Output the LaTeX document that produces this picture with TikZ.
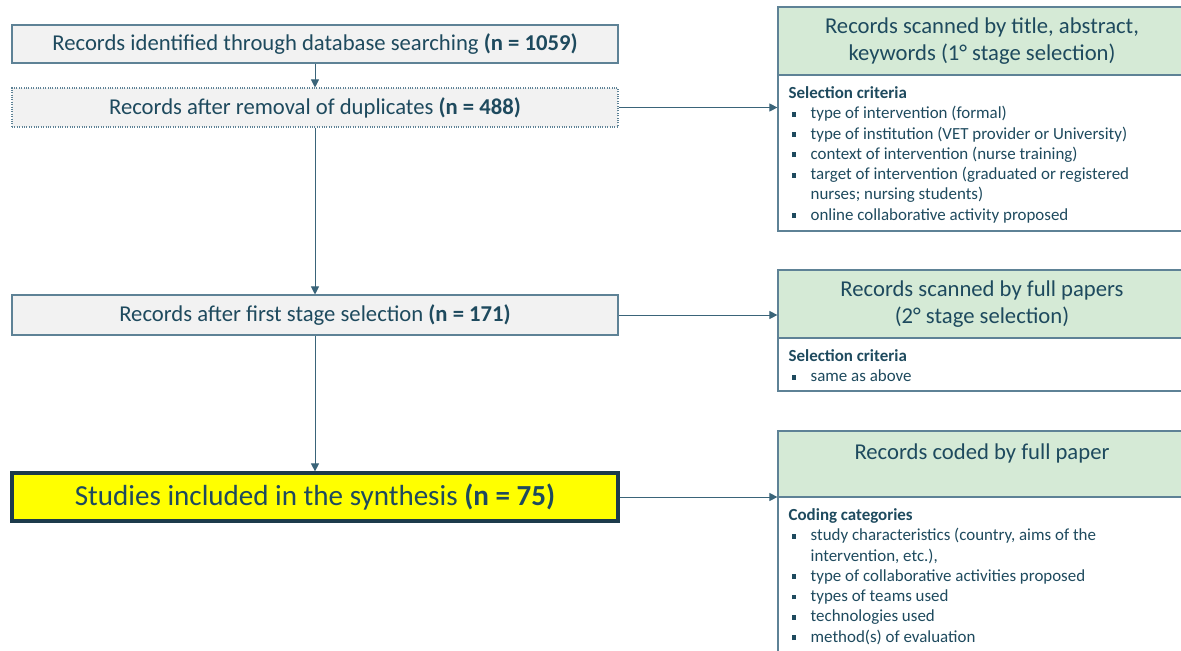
\documentclass[tikz,border=0pt]{standalone}
\usepackage{fontspec}
\setmainfont{Carlito}
\usetikzlibrary{arrows.meta,calc}
\definecolor{txt}{HTML}{1E4A5E}
\definecolor{edge}{HTML}{5E8296}
\definecolor{lnk}{HTML}{3A6479}
\definecolor{grn}{HTML}{D5EAD6}
\definecolor{lgray}{HTML}{F2F2F2}
\definecolor{ylw}{HTML}{FFFF00}
\definecolor{dark}{HTML}{1C3B4B}
\newcommand{\bitem}{\hspace*{2.25pt}\makebox[14.25pt][l]{\raisebox{1.6pt}{\rule{3.6pt}{3.6pt}}}}
\newcommand{\bcont}{\hspace*{16.5pt}}
\begin{document}
\begin{tikzpicture}[x=0.75pt,y=-0.75pt,
  lbox/.style={draw=edge, fill=lgray, minimum width=454.5pt, inner sep=0pt, text=txt,
    font=\fontsize{17}{20}\selectfont, line width=0.8pt},
  hbox/.style={draw=edge, fill=grn, minimum width=306pt, inner sep=0pt, text=txt,
    font=\fontsize{17}{20.25}\selectfont, align=center, line width=0.9pt},
  bbox/.style={draw=edge, fill=white, minimum width=306pt, inner sep=0pt, line width=0.9pt},
  btext/.style={anchor=north west, inner sep=0pt, text=txt, align=left,
    font=\fontsize{12.7}{15.2}\selectfont},
  conn/.style={draw=lnk, line width=0.7pt, -{Triangle[length=6pt,width=6pt]}}]
\useasboundingbox (0,0) rectangle (1181,650);
\clip (0,0) rectangle (1181,650);
\fill[white] (0,0) rectangle (1181,650);

% left column
\node[lbox, minimum height=28.5pt] (b1) at (315,44)
  {Records identified through database searching \textbf{(n = 1059)}};
\node[lbox, minimum height=29.25pt, densely dotted] (b2) at (315,107.5)
  {Records after removal of duplicates \textbf{(n = 488)}};
\node[lbox, minimum height=30pt] (b3) at (315,315)
  {Records after first stage selection \textbf{(n = 171)}};
\node[lbox, minimum height=36pt, fill=ylw, draw=dark, line width=2.4pt,
  font=\fontsize{21.8}{24}\selectfont] (b4) at (315,497)
  {Studies included in the synthesis \textbf{(n = 75)}};

% right column, box 1
\node[hbox, minimum height=51pt] (h1) at (982,41)
  {Records scanned by title, abstract,\\keywords (1° stage selection)};
\node[bbox, minimum height=117pt] (r1) at (982,153) {};
\node[btext] (t1) at ($(r1.north west)+(11,12)$)
  {\textbf{Selection criteria}\\
   \bitem type of intervention (formal)\\
   \bitem type of institution (VET provider or University)\\
   \bitem context of intervention (nurse training)\\
   \bitem target of intervention (graduated or registered\\
   \bcont nurses; nursing students)\\
   \bitem online collaborative activity proposed};

% right column, box 2
\node[hbox, minimum height=51pt] (h2) at (982,304)
  {Records scanned by full papers\\(2° stage selection)};
\node[bbox, minimum height=39.75pt] (r2) at (982,364.5) {};
\node[btext] (t2) at ($(r2.north west)+(11,12)$)
  {\textbf{Selection criteria}\\
   \bitem same as above};

% right column, box 3
\node[hbox, minimum height=49.5pt] (h3) at (982,464) {};
\node[text=txt, font=\fontsize{17}{20}\selectfont, inner sep=0pt] (h3t) at (982,453)
  {Records coded by full paper};
\node[bbox, minimum height=122.25pt] (r3) at (982,578.5) {};
\node[btext] (t3) at ($(r3.north west)+(11,12)$)
  {\textbf{Coding categories}\\
   \bitem study characteristics (country, aims of the\\
   \bcont intervention, etc.),\\
   \bitem type of collaborative activities proposed\\
   \bitem types of teams used\\
   \bitem technologies used\\
   \bitem method(s) of evaluation};

% connectors
\draw[conn] (b1.south) -- (b2.north);
\draw[conn] (b2.south) -- (b3.north);
\draw[conn] (b3.south) -- (b4.north);
\draw[conn] (b2.east) -- (b2.east -| r1.west);
\draw[conn] (b3.east) -- (b3.east -| h2.west);
\draw[conn] (b4.east) -- (b4.east -| r3.west);
\end{tikzpicture}
\end{document}
